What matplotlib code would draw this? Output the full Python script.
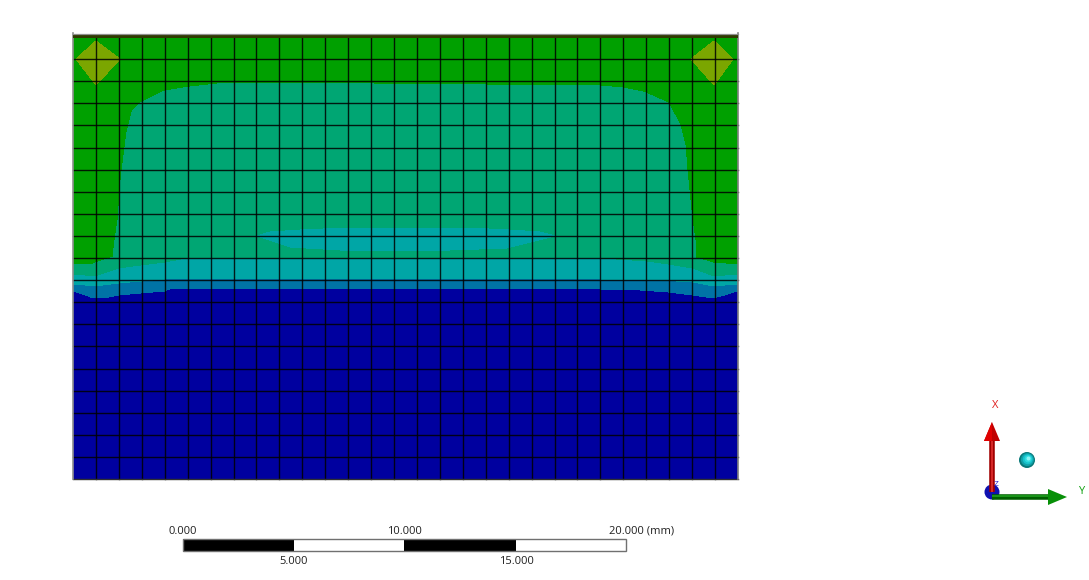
#!/usr/bin/python

# Contour plot on a mesh with scale bar and triad, laid out in picture pixels.

import numpy as np
import matplotlib
matplotlib.use('Agg')
import matplotlib.pyplot as plt
from matplotlib.patches import Circle, Rectangle

plt.rcParams['font.family'] = ['Open Sans', 'DejaVu Sans']

# ===========================================
# colours of the contour bands
green = '#00a000'
tealgreen = '#00a673'
cyan = '#00a6a6'
blue = '#0073a6'
navy = '#00009f'
olive = '#7ba600'

# band outlines, (x, y)
inner_x = [113, 115, 118, 121, 124, 127, 132, 140, 165, 190, 217, 260, 600, 623, 643, 668, 680,
           685, 687, 692, 695, 696, 713, 738, 738, 73, 73, 93]
inner_y = [257, 240, 220, 180, 155, 132, 112, 103, 91, 87, 84, 83, 86, 88, 92, 103, 125,
           145, 170, 220, 240, 258, 263, 265, 300, 300, 264, 264]
cyan_x = [73, 96, 119, 141, 165, 187, 260, 600, 647, 668, 692, 713, 738, 738, 73]
cyan_y = [275, 277, 269, 266, 263, 259, 258, 259, 262, 265, 269, 277, 275, 310, 310]
blue_x = [73, 96, 119, 165, 240, 600, 660, 692, 713, 738, 738, 73]
blue_y = [285, 287, 284, 280, 279, 280, 281, 283, 287, 285, 310, 310]
navy_x = [73, 90, 105, 119, 141, 165, 170, 260, 555, 600, 640, 668, 692, 713, 725, 738, 738, 73]
navy_y = [292, 298, 299, 296, 294, 292, 290, 289, 289, 290, 291, 293, 296, 299, 296, 292, 479, 479]
lens_x = [257, 270, 300, 347, 467, 510, 540, 555, 507, 450, 400, 340, 290]
lens_y = [236, 232, 230, 228, 228, 230, 232, 236, 248, 250, 251, 250, 247]
diamond_l_x = [96, 120, 96, 76]
diamond_r_x = [714, 733, 714, 691]
diamond_y = [41, 59, 85, 59]

# mesh
mesh_left, mesh_right = 73, 738
mesh_top, mesh_bottom = 37, 479
n_cols, n_rows = 29, 20

# scale bar
bar_ticks = ['0.000', '5.000', '10.000', '15.000', '20.000']
bar_x = [183, 293.5, 404, 516, 626]

fig = plt.figure(figsize=(10.89, 5.80), dpi=100)
ax = fig.add_axes([0, 0, 1, 1])
ax.set_xlim(0, 1089)
ax.set_ylim(580, 0)
ax.axis('off')

### Contour bands.
def band(x, y, color, z):
    ax.fill(x, y, color=color, lw=0, antialiased=False, zorder=z)

ax.add_patch(Rectangle((mesh_left, mesh_top), mesh_right - mesh_left, mesh_bottom - mesh_top,
                       fc=green, lw=0, zorder=1))
band(diamond_l_x, diamond_y, olive, 2)
band(diamond_r_x, diamond_y, olive, 2)
band(inner_x, inner_y, tealgreen, 2)
band(lens_x, lens_y, cyan, 3)
band(cyan_x, cyan_y, cyan, 3)
band(blue_x, blue_y, blue, 4)
band(navy_x, navy_y, navy, 5)

### Mesh lines.
for x in np.linspace(mesh_left, mesh_right, n_cols + 1)[1:-1]:
    ax.plot([x, x], [mesh_top, mesh_bottom], color='black', lw=1.0, alpha=0.85, zorder=6)
for y in np.linspace(mesh_top, mesh_bottom, n_rows + 1)[1:-1]:
    ax.plot([mesh_left, mesh_right], [y, y], color='black', lw=1.0, alpha=0.85, zorder=6)
ax.plot([mesh_left, mesh_right], [mesh_bottom, mesh_bottom], color='#303030', lw=1.0, zorder=6)
ax.plot([mesh_left, mesh_left], [33, mesh_bottom], color='#909090', lw=1.2, zorder=7)
ax.plot([mesh_right, mesh_right], [33, mesh_bottom], color='#808080', lw=1.2, zorder=7)
ax.add_patch(Rectangle((mesh_left, 34), mesh_right - mesh_left, 3.5, fc='#2f3a00', lw=0, zorder=7))
ax.plot([mesh_left, mesh_right], [33.5, 33.5], color='#909090', lw=0.9, zorder=7)

### Scale bar.
for i in range(4):
    ax.add_patch(Rectangle((bar_x[i], 539), bar_x[i + 1] - bar_x[i], 11.5,
                           fc='black' if i % 2 == 0 else 'white', ec='none', zorder=2))
ax.add_patch(Rectangle((bar_x[0], 539), bar_x[4] - bar_x[0], 11.5, fc='none', ec='#707070', lw=1.0, zorder=3))
for i, lab in enumerate(bar_ticks):
    y = 531 if i % 2 == 0 else 562
    if i == 4:
        lab = lab + ' (mm)'
        ax.text(609, y, lab, fontsize=8, ha='left', va='center', color='#202020')
    else:
        ax.text(bar_x[i], y, lab, fontsize=8, ha='center', va='center', color='#202020')

### Triad.
ax.add_patch(Circle((992, 492), 7.5, fc='#1010b0', ec='none', zorder=2))
ax.plot([992, 992], [492, 438], color='#a00000', lw=4, solid_capstyle='butt', zorder=3)
ax.plot([991.5, 991.5], [492, 438], color='#e03030', lw=1.2, solid_capstyle='butt', zorder=4)
ax.fill([992, 1000, 984], [422, 441, 441], color='#c00000', lw=0, zorder=4)
ax.fill([992, 992, 984], [422, 441, 441], color='#e00000', lw=0, zorder=4)
ax.plot([992, 1050], [497, 497], color='#006000', lw=4, solid_capstyle='butt', zorder=3)
ax.plot([992, 1050], [496, 496], color='#20a020', lw=1.2, solid_capstyle='butt', zorder=4)
ax.fill([1067, 1048, 1048], [497, 489, 505], color='#089008', lw=0, zorder=4)
ax.text(995, 406, 'X', fontsize=8, color='#e02020', ha='center', va='center')
ax.text(1081, 492, 'Y', fontsize=8, color='#10a010', ha='center', va='center')
ax.text(996, 485, 'Z', fontsize=6, color='#2020d0', ha='center', va='center', zorder=5)

# ball, lit from upper right
for r, c in zip([8, 6.5, 5, 3.5, 2], ['#087878', '#10a0a8', '#18c4cc', '#30dce0', '#90f4f4']):
    off = (8 - r) * 0.25
    ax.add_patch(Circle((1027 + off, 460 - off), r, fc=c, ec='none', zorder=3))

plt.savefig('out.png', dpi=100)
